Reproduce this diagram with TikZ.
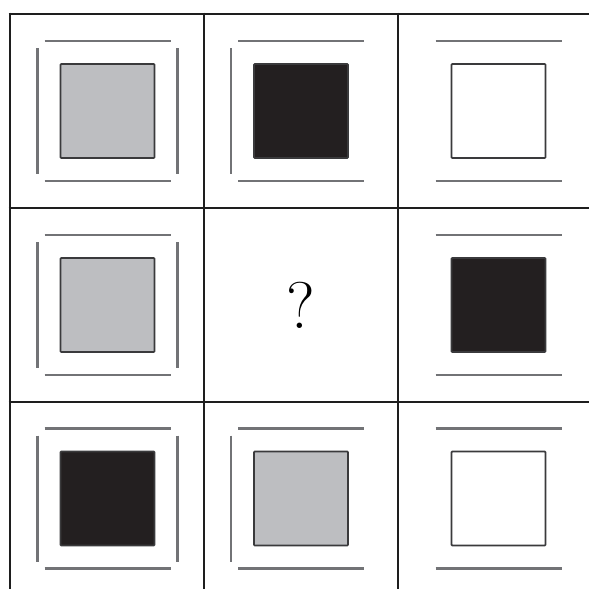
\documentclass[tikz,border=0pt]{standalone}
\definecolor{fillgray}{HTML}{BDBEC1}
\definecolor{fillblack}{HTML}{231F20}
\definecolor{barcol}{HTML}{727376}
\definecolor{sqline}{HTML}{3A3A3C}
\definecolor{gridcol}{HTML}{1E1E1E}
\newcommand\cellsq[3]{\draw[sqbox, fill=#3] (#1-47,#2-47) rectangle (#1+47,#2+47);}
\newcommand\barTop[2]{\draw[barline] (#1-63,#2-70) -- (#1+63,#2-70);}
\newcommand\barBot[2]{\draw[barline] (#1-63,#2+70) -- (#1+63,#2+70);}
\newcommand\barLeft[2]{\draw[barline] (#1-70,#2-63) -- (#1-70,#2+63);}
\newcommand\barRight[2]{\draw[barline] (#1+70,#2-63) -- (#1+70,#2+63);}
\begin{document}
\begin{tikzpicture}[x=1pt,y=-1pt,
  gridline/.style={line width=2.6pt, draw=gridcol},
  barline/.style={line width=2.2pt, draw=barcol},
  sqbox/.style={line width=1.7pt, draw=sqline, rounded corners=0.8pt}]
\useasboundingbox (0,0) rectangle (589,589);
\clip (0,0) rectangle (589,589);
\fill[white] (0,0) rectangle (589,589);
% grid
\foreach \x in {10,204,398}{\draw[gridline] (\x,12.7) -- (\x,600);}
\foreach \y in {14,208,402}{\draw[gridline] (8.7,\y) -- (600,\y);}
% row 1
\cellsq{107.5}{111}{fillgray}
\barTop{107.5}{111}\barBot{107.5}{111}\barLeft{107.5}{111}\barRight{107.5}{111}
\cellsq{301}{111}{fillblack}
\barTop{301}{111}\barBot{301}{111}\barLeft{301}{111}
\cellsq{498.5}{111}{white}
\barTop{498.5}{111}\barBot{498.5}{111}
% row 2
\cellsq{107.5}{305}{fillgray}
\barTop{107.5}{305}\barBot{107.5}{305}\barLeft{107.5}{305}\barRight{107.5}{305}
\node[font=\fontsize{66}{70}\selectfont, inner sep=0pt] (q) at (301,305) {?};
\cellsq{498.5}{305}{fillblack}
\barTop{498.5}{305}\barBot{498.5}{305}
% row 3
\cellsq{107.5}{498.5}{fillblack}
\barTop{107.5}{498.5}\barBot{107.5}{498.5}\barLeft{107.5}{498.5}\barRight{107.5}{498.5}
\cellsq{301}{498.5}{fillgray}
\barTop{301}{498.5}\barBot{301}{498.5}\barLeft{301}{498.5}
\cellsq{498.5}{498.5}{white}
\barTop{498.5}{498.5}\barBot{498.5}{498.5}
\end{tikzpicture}
\end{document}
